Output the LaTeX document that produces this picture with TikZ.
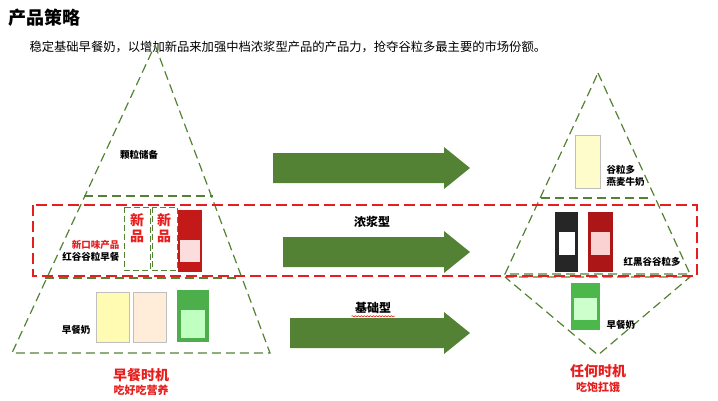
\documentclass[tikz,border=0pt]{standalone}
\usepackage{fontspec}
\setmainfont{Noto Sans CJK SC}
\usetikzlibrary{shapes,positioning,decorations.pathmorphing}
\definecolor{leaf}{RGB}{84,130,53}
\definecolor{alarm}{RGB}{230,30,30}
\tikzset{tri/.style={draw=leaf,dashed,dash pattern=on 9pt off 5pt,line width=1.2pt},
  redbox/.style={draw=alarm,dash pattern=on 11pt off 5pt,line width=1.6pt},
  lbl/.style={font=\fontsize{9.5}{12}\selectfont\bfseries,align=left},
  pack/.style={draw=gray!50,line width=.4pt}}
% block arrow: start x, end x, middle y
\newcommand{\blockarrow}[3]{\fill[leaf] (#1,#3-15) -- (#2-26,#3-15) -- (#2-26,#3-21)
  -- (#2,#3) -- (#2-26,#3+21) -- (#2-26,#3+15) -- (#1,#3+15) -- cycle;}
\begin{document}
\begin{tikzpicture}[x=1pt,y=-1pt]
\useasboundingbox (0,0) rectangle (718,400);
% heading
\node[anchor=west,font=\fontsize{18}{20}\selectfont\bfseries] (title) at (5,18) {产品策略};
\node[anchor=west,font=\fontsize{12.3}{14}\selectfont] (sub) at (26,47) {稳定基础早餐奶，以增加新品来加强中档浓浆型产品的产品力，抢夺谷粒多最主要的市场份额。};
% left pyramid
\draw[tri] (155,45) -- (270,353) -- (12,353) -- cycle;
\draw[tri] (84,196) -- (213,196);
\draw[tri] (45,278) -- (237,278);
% right pyramid
\draw[tri] (598,73) -- (690,274) -- (505,274) -- cycle;
\draw[tri] (541,198) -- (652,198);
\draw[tri] (505,277) -- (690,277) -- (598,355) -- cycle;
% focus band
\draw[redbox] (33,205) rectangle (697,276);
% arrows
\blockarrow{273}{470}{168}
\blockarrow{283}{470}{252}
\blockarrow{290}{470}{333}
% new items
\draw[tri,line width=1pt,dash pattern=on 6pt off 3pt] (124,207) rectangle (150,270);
\draw[tri,line width=1pt,dash pattern=on 6pt off 3pt] (152,207) rectangle (177,270);
\node[font=\fontsize{14}{16}\selectfont\bfseries,text=alarm,align=center] (n1) at (137,228) {新\\品};
\node[font=\fontsize{14}{16}\selectfont\bfseries,text=alarm,align=center] (n2) at (164,228) {新\\品};
\fill[alarm!85!black] (178,210) rectangle (202,272);
\fill[white!85!alarm] (180,240) rectangle (200,262);
% base products
\foreach \px/\c in {96/yellow!30, 133/orange!15}
  \draw[pack,fill=\c] (\px,292) rectangle ++(33,50);
\fill[green!55!black!70] (177,290) rectangle (209,342);
\fill[green!25] (181,310) rectangle (205,338);
% right products
\draw[pack,fill=yellow!20] (575,135) rectangle (600,188);
\fill[black!85] (555,212) rectangle (578,272);
\fill[white] (559,232) rectangle (575,255);
\fill[alarm!75!black] (588,212) rectangle (613,272);
\fill[white!80!alarm] (591,232) rectangle (610,255);
\fill[green!60!black!70] (571,283) rectangle (600,330);
\fill[green!20] (574,298) rectangle (597,320);
% labels
\node[lbl] (grain) at (139,155) {颗粒储备};
\node[font=\fontsize{12}{14}\selectfont\bfseries] (thick) at (372,222) {浓浆型};
\node[font=\fontsize{12}{14}\selectfont\bfseries] (basic) at (373,308) {基础型};
\draw[alarm,line width=.6pt,decorate,decoration={snake,amplitude=.6pt,segment length=3pt}] ([yshift=1pt]basic.south west) -- ([yshift=1pt]basic.south east);
\node[lbl,anchor=east,align=right] (flav) at (123,251) {\textcolor{alarm}{新口味产品}\\红谷谷粒早餐};
\node[lbl,anchor=east] (bm1) at (94,330) {早餐奶};
\node[lbl,anchor=west] (oat) at (603,176) {谷粒多\\燕麦牛奶};
\node[lbl,anchor=west] (rb) at (620,262) {红黑谷谷粒多};
\node[lbl,anchor=west] (bm2) at (603,325) {早餐奶};
\node[font=\fontsize{14}{16}\selectfont\bfseries,text=alarm] (t1) at (141,375) {早餐时机};
\node[font=\fontsize{11}{12}\selectfont\bfseries,text=alarm] (t1s) at (141,390) {吃好吃营养};
\node[font=\fontsize{14}{16}\selectfont\bfseries,text=alarm] (t2) at (598,371) {任何时机};
\node[font=\fontsize{11}{12}\selectfont\bfseries,text=alarm] (t2s) at (598,387) {吃饱扛饿};
\end{tikzpicture}
\end{document}
